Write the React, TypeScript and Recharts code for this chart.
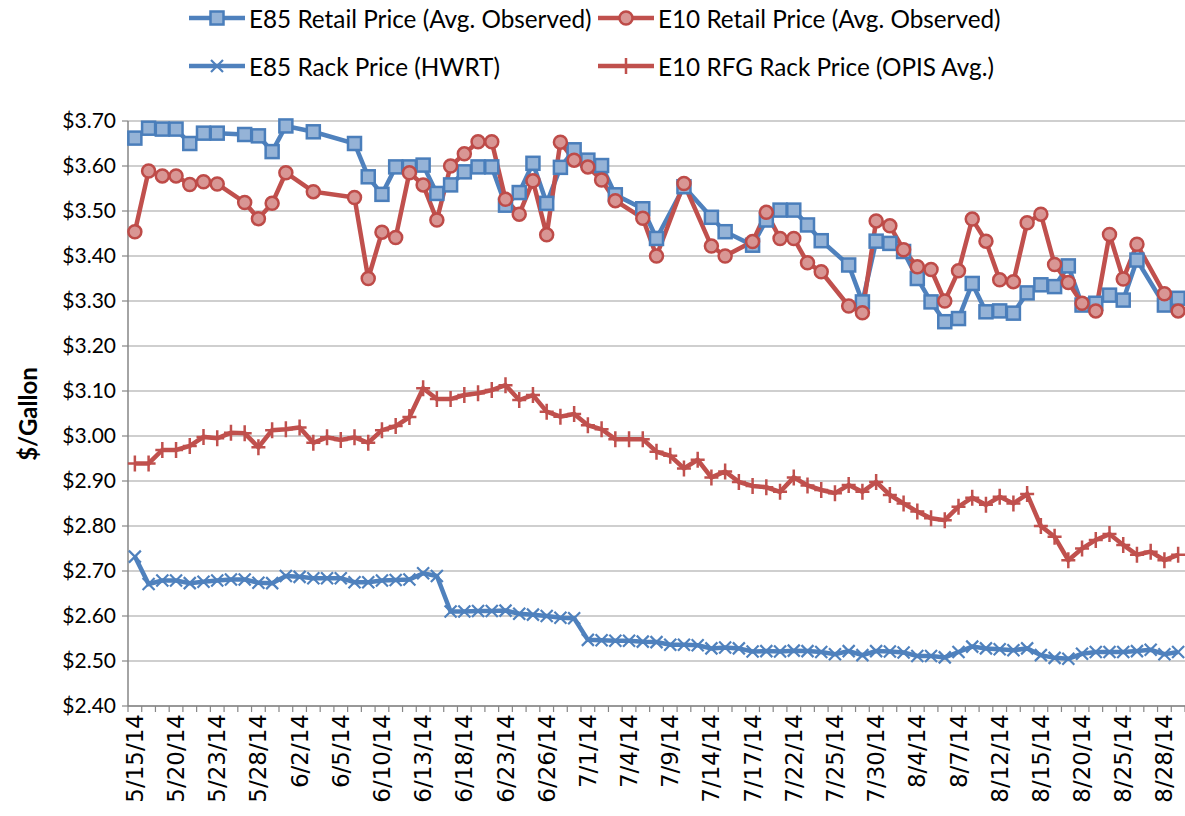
import { LineChart, Line, XAxis, YAxis, CartesianGrid } from 'recharts';

const DATES = [
  '5/15/14', '5/16/14', '5/19/14', '5/20/14', '5/21/14', '5/22/14', '5/23/14', '5/26/14', '5/27/14', '5/28/14',
  '5/29/14', '5/30/14', '6/2/14', '6/3/14', '6/4/14', '6/5/14', '6/6/14', '6/9/14', '6/10/14', '6/11/14',
  '6/12/14', '6/13/14', '6/16/14', '6/17/14', '6/18/14', '6/19/14', '6/20/14', '6/23/14', '6/24/14', '6/25/14',
  '6/26/14', '6/27/14', '6/30/14', '7/1/14', '7/2/14', '7/3/14', '7/4/14', '7/7/14', '7/8/14', '7/9/14',
  '7/10/14', '7/11/14', '7/14/14', '7/15/14', '7/16/14', '7/17/14', '7/18/14', '7/21/14', '7/22/14', '7/23/14',
  '7/24/14', '7/25/14', '7/28/14', '7/29/14', '7/30/14', '7/31/14', '8/1/14', '8/4/14', '8/5/14', '8/6/14',
  '8/7/14', '8/8/14', '8/11/14', '8/12/14', '8/13/14', '8/14/14', '8/15/14', '8/18/14', '8/19/14', '8/20/14',
  '8/21/14', '8/22/14', '8/25/14', '8/26/14', '8/27/14', '8/28/14', '8/29/14',
];

// retail prices are not observed every day -> null gaps (lines connect across them)
const E85_RETAIL: (number | null)[] = [
  3.662, 3.684, 3.682, 3.682, 3.65, 3.673, 3.673, null, 3.67, 3.667,
  3.632, 3.689, null, 3.676, null, null, 3.65, 3.576, 3.537, 3.598,
  3.598, 3.602, 3.539, 3.558, 3.587, 3.598, 3.598, 3.513, 3.541, 3.606,
  3.517, 3.597, 3.636, 3.613, 3.601, 3.536, null, 3.505, 3.439, null,
  3.554, null, 3.486, 3.454, null, 3.424, 3.48, 3.502, 3.502, 3.469,
  3.434, null, 3.38, 3.298, 3.433, 3.428, 3.41, 3.35, 3.298, 3.254,
  3.261, 3.339, 3.276, 3.278, 3.273, 3.318, 3.336, 3.332, 3.378, 3.291,
  3.295, 3.313, 3.302, 3.391, null, 3.291, 3.306,
];

const E10_RETAIL: (number | null)[] = [
  3.454, 3.589, 3.578, 3.578, 3.559, 3.565, 3.56, null, 3.519, 3.483,
  3.517, 3.585, null, 3.543, null, null, 3.53, 3.35, 3.453, 3.441,
  3.585, 3.558, 3.48, 3.6, 3.627, 3.654, 3.654, 3.526, 3.493, 3.567,
  3.447, 3.653, 3.613, 3.598, 3.569, 3.523, null, 3.484, 3.4, null,
  3.561, null, 3.422, 3.4, null, 3.432, 3.497, 3.439, 3.439, 3.385,
  3.365, null, 3.289, 3.274, 3.478, 3.467, 3.414, 3.376, 3.37, 3.3,
  3.367, 3.482, 3.433, 3.347, 3.343, 3.474, 3.493, 3.381, 3.341, 3.295,
  3.278, 3.448, 3.349, 3.426, null, 3.316, 3.278,
];

const E85_RACK = [
  2.732, 2.671, 2.679, 2.679, 2.673, 2.676, 2.679, 2.681, 2.681, 2.674,
  2.673, 2.689, 2.687, 2.684, 2.684, 2.684, 2.675, 2.675, 2.679, 2.68,
  2.681, 2.695, 2.689, 2.61, 2.61, 2.611, 2.611, 2.612, 2.605, 2.603,
  2.6, 2.596, 2.595, 2.547, 2.546, 2.545, 2.545, 2.543, 2.542, 2.536,
  2.536, 2.535, 2.528, 2.53, 2.528, 2.521, 2.522, 2.521, 2.523, 2.522,
  2.52, 2.515, 2.522, 2.513, 2.522, 2.521, 2.519, 2.511, 2.511, 2.508,
  2.52, 2.532, 2.528, 2.526, 2.524, 2.528, 2.513, 2.507, 2.505, 2.516,
  2.52, 2.52, 2.52, 2.522, 2.525, 2.515, 2.52,
];

const E10_RACK = [
  2.939, 2.939, 2.969, 2.969, 2.978, 2.998, 2.995, 3.007, 3.006, 2.975,
  3.013, 3.015, 3.019, 2.985, 2.997, 2.991, 2.997, 2.985, 3.013, 3.022,
  3.042, 3.106, 3.082, 3.082, 3.091, 3.095, 3.102, 3.113, 3.08, 3.091,
  3.054, 3.043, 3.049, 3.024, 3.015, 2.993, 2.993, 2.993, 2.965, 2.956,
  2.928, 2.947, 2.908, 2.921, 2.898, 2.889, 2.886, 2.876, 2.908, 2.89,
  2.88, 2.873, 2.891, 2.876, 2.898, 2.869, 2.85, 2.832, 2.817, 2.813,
  2.843, 2.863, 2.847, 2.865, 2.85, 2.871, 2.8, 2.776, 2.724, 2.75,
  2.769, 2.782, 2.758, 2.736, 2.743, 2.724, 2.736,
];

const Y_TICKS = [2.4, 2.5, 2.6, 2.7, 2.8, 2.9, 3.0, 3.1, 3.2, 3.3, 3.4, 3.5, 3.6, 3.7];

const data = DATES.map((date, i) => ({
  date,
  e85Retail: E85_RETAIL[i],
  e10Retail: E10_RETAIL[i],
  e85Rack: E85_RACK[i],
  e10Rack: E10_RACK[i],
}));

const W = 1185;
const H = 816;
const Y_AXIS_W = 128;
const BAND = (W - Y_AXIS_W) / DATES.length;

const BLUE = '#4F81BD';
const RED = '#C0504D';
const AXIS = '#868686';

const Square = ({ cx, cy }: { cx: number; cy: number }) => (
  <rect x={cx - 6.5} y={cy - 6.5} width={13} height={13} fill="#95B3D7" stroke="#4A7EBB" strokeWidth={2.5} />
);
const Circle = ({ cx, cy }: { cx: number; cy: number }) => (
  <circle cx={cx} cy={cy} r={6.5} fill="#D99694" stroke="#BE4B48" strokeWidth={2.5} />
);
const Cross = ({ cx, cy }: { cx: number; cy: number }) => (
  <path d={`M${cx - 6},${cy - 6}L${cx + 6},${cy + 6}M${cx - 6},${cy + 6}L${cx + 6},${cy - 6}`} stroke={BLUE} strokeWidth={2.2} />
);
const Plus = ({ cx, cy }: { cx: number; cy: number }) => (
  <path d={`M${cx - 7},${cy}L${cx + 7},${cy}M${cx},${cy - 8}L${cx},${cy + 8}`} stroke={RED} strokeWidth={2.5} />
);

const makeDot = (Shape: any) => (p: any) => {
  if (p.value == null || p.cy == null || Number.isNaN(p.cy)) return <g key={`n${p.index}`} />;
  return (
    <g key={`d${p.index}`}>
      <Shape cx={p.cx} cy={p.cy} />
    </g>
  );
};

const XTick = (p: any) => {
  const { x, y, payload, index } = p;
  const bx = x - BAND / 2;
  return (
    <g>
      <line x1={bx} x2={bx} y1={y} y2={y + 6} stroke={AXIS} strokeWidth={1.2} />
      {index === DATES.length - 1 && (
        <line x1={x + BAND / 2} x2={x + BAND / 2} y1={y} y2={y + 6} stroke={AXIS} strokeWidth={1.2} />
      )}
      {index % 3 === 0 && (
        <text
          transform={`translate(${x},${y + 8}) rotate(-90)`}
          textAnchor="end"
          dominantBaseline="central"
          fontFamily="DejaVu Sans"
          fontSize={23}
          fill="#000"
        >
          {payload.value}
        </text>
      )}
    </g>
  );
};

const LEGEND = [
  { label: 'E85 Retail Price (Avg. Observed)', color: BLUE, Shape: Square, left: 188, top: 18 },
  { label: 'E10 Retail Price (Avg. Observed)', color: RED, Shape: Circle, left: 597, top: 18 },
  { label: 'E85 Rack Price (HWRT)', color: BLUE, Shape: Cross, left: 188, top: 66 },
  { label: 'E10 RFG Rack Price (OPIS Avg.)', color: RED, Shape: Plus, left: 597, top: 66 },
];

export default function App() {
  return (
    <div style={{ position: 'absolute', left: 0, top: 0, width: W, height: H, background: '#fff' }}>
      {LEGEND.map(({ label, color, Shape, left, top }) => (
        <div
          key={label}
          style={{
            position: 'absolute',
            left,
            top: top - 15,
            height: 30,
            display: 'flex',
            alignItems: 'center',
            fontFamily: 'Lato',
            fontSize: 24.3,
            color: '#000',
            whiteSpace: 'nowrap',
          }}
        >
          <svg width={58} height={28} style={{ marginRight: 3 }}>
            <line x1={1} x2={57} y1={14} y2={14} stroke={color} strokeWidth={4.5} />
            <Shape cx={29} cy={14} />
          </svg>
          {label}
        </div>
      ))}
      <LineChart width={W} height={H} data={data} margin={{ top: 121, right: 0, bottom: 0, left: 0 }}>
        <CartesianGrid vertical={false} stroke="#BFBFBF" strokeWidth={1.5} />
        <XAxis
          dataKey="date"
          interval={0}
          height={110}
          padding={{ left: BAND / 2, right: BAND / 2 }}
          tickLine={false}
          tickSize={0}
          tickMargin={0}
          tick={XTick}
          axisLine={{ stroke: AXIS, strokeWidth: 1.5 }}
        />
        <YAxis
          type="number"
          domain={[2.4, 3.7]}
          ticks={Y_TICKS}
          width={Y_AXIS_W}
          tickFormatter={(v: number) => `$${v.toFixed(2)}`}
          tick={{ fontSize: 21, fill: '#000', fontFamily: 'Lato' }}
          tickSize={6}
          tickMargin={6}
          tickLine={{ stroke: AXIS, strokeWidth: 1.2 }}
          axisLine={{ stroke: AXIS, strokeWidth: 1.5 }}
          label={{
            content: () => (
              <text
                transform="translate(27,414) rotate(-90)"
                textAnchor="middle"
                dominantBaseline="central"
                fontFamily="Lato"
                fontWeight="bold"
                fontSize={24}
                fill="#000"
              >
                $/Gallon
              </text>
            ),
          }}
        />
        <Line dataKey="e85Retail" stroke={BLUE} strokeWidth={4.5} dot={makeDot(Square)} connectNulls isAnimationActive={false} />
        <Line dataKey="e10Retail" stroke={RED} strokeWidth={4.5} dot={makeDot(Circle)} connectNulls isAnimationActive={false} />
        <Line dataKey="e85Rack" stroke={BLUE} strokeWidth={4.5} dot={makeDot(Cross)} isAnimationActive={false} />
        <Line dataKey="e10Rack" stroke={RED} strokeWidth={4.5} dot={makeDot(Plus)} isAnimationActive={false} />
      </LineChart>
    </div>
  );
}
